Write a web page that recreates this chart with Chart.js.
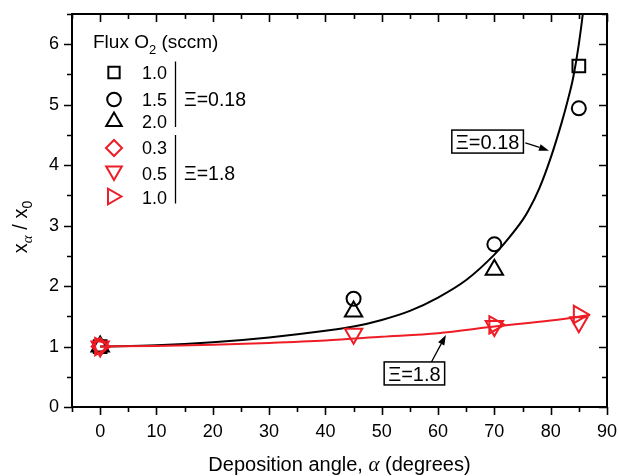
<!DOCTYPE html>
<html><head><meta charset="utf-8">
<script src="https://cdn.jsdelivr.net/npm/chart.js@4/dist/chart.umd.min.js"></script>
<style>html,body{margin:0;padding:0;background:#fff;}canvas{display:block;}</style>
</head><body>
<canvas id="c" width="619" height="476"></canvas>
<script>
// ---- data ----
const xTickValues = [0, 10, 20, 30, 40, 50, 60, 70, 80, 90];
const xMinorTickValues = [-5, 5, 15, 25, 35, 45, 55, 65, 75, 85];
const yTickValues = [0, 1, 2, 3, 4, 5, 6];
const yMinorTickValues = [0.5, 1.5, 2.5, 3.5, 4.5, 5.5, 6.5];

// Xi = 0.18 (black)
const squareAngles = [0, 85];          // 1.0 sccm
const squareValues = [1.0, 5.64];
const circleAngles = [0, 45, 70, 85];  // 1.5 sccm
const circleValues = [1.0, 1.79, 2.69, 4.94];
const triUpAngles = [0, 45, 70];       // 2.0 sccm
const triUpValues = [1.0, 1.58, 2.27];

// Xi = 1.8 (red)
const diamondAngles = [0];             // 0.3 sccm
const diamondValues = [1.0];
const triDownAngles = [0, 45, 70, 85]; // 0.5 sccm
const triDownValues = [1.0, 1.21, 1.34, 1.40];
const triRightAngles = [0, 70, 85];    // 1.0 sccm
const triRightValues = [1.0, 1.36, 1.53];

// fitted curves
const fitBlackAngles = [0, 10, 20, 30, 40, 45, 50, 55, 60, 65, 70, 72, 75, 76, 78, 80, 82, 83, 84, 85, 86, 87];
const fitBlackValues = [1.00, 1.02, 1.07, 1.15, 1.26, 1.33, 1.44, 1.59, 1.81, 2.10, 2.52, 2.73, 3.09, 3.24, 3.62, 4.12, 4.72, 5.06, 5.45, 6.00, 6.75, 7.80];
const fitRedAngles = [0, 10, 20, 30, 40, 50, 60, 70, 80, 87];
const fitRedValues = [1.00, 1.01, 1.03, 1.06, 1.10, 1.16, 1.22, 1.33, 1.43, 1.52];

const legendFluxBlack = ['1.0', '1.5', '2.0'];
const legendFluxRed = ['0.3', '0.5', '1.0'];
const xiBlackLabel = 'Ξ=0.18';
const xiRedLabel = 'Ξ=1.8';

// ---- styling ----
const BLACK = '#000000';
const RED = '#ee1c24';
const SANS = '"Liberation Sans", Arial, Helvetica, sans-serif';
const SERIF = '"Liberation Serif", "DejaVu Serif", serif';

function pts(xs, ys) { return xs.map((x, i) => ({ x: x, y: ys[i] })); }

function markerSet(label, xs, ys, style, rot, r, color, order) {
  return {
    label: label, data: pts(xs, ys), showLine: false,
    pointStyle: style, pointRotation: rot, pointRadius: r, pointHoverRadius: r,
    pointBorderWidth: 2, pointBorderColor: color, borderColor: color,
    pointBackgroundColor: 'rgba(0,0,0,0)', backgroundColor: 'rgba(0,0,0,0)',
    order: order
  };
}
function lineSet(label, xs, ys, color, order) {
  return {
    label: label, data: pts(xs, ys), showLine: true, pointRadius: 0, pointHoverRadius: 0,
    borderColor: color, borderWidth: 2, cubicInterpolationMode: 'monotone',
    fill: false, order: order
  };
}

// own marker drawing for the legend (same geometry as Chart.js point styles)
function drawMarker(ctx, style, x, y, r, rotDeg, color) {
  ctx.save();
  ctx.strokeStyle = color; ctx.lineWidth = 2;
  ctx.beginPath();
  const rad = rotDeg * Math.PI / 180;
  if (style === 'circle') {
    ctx.arc(x, y, r, 0, Math.PI * 2);
  } else if (style === 'rect') {
    const s = Math.SQRT1_2 * r;
    ctx.rect(x - s, y - s, 2 * s, 2 * s);
  } else if (style === 'rectRot') {
    ctx.moveTo(x, y - r); ctx.lineTo(x + r, y); ctx.lineTo(x, y + r); ctx.lineTo(x - r, y);
    ctx.closePath();
  } else if (style === 'triangle') {
    let a = rad;
    ctx.moveTo(x + Math.sin(a) * r, y - Math.cos(a) * r);
    a += 2 * Math.PI / 3;
    ctx.lineTo(x + Math.sin(a) * r, y - Math.cos(a) * r);
    a += 2 * Math.PI / 3;
    ctx.lineTo(x + Math.sin(a) * r, y - Math.cos(a) * r);
    ctx.closePath();
  }
  ctx.stroke();
  ctx.restore();
}

function arrow(ctx, x1, y1, x2, y2) {
  ctx.save();
  ctx.strokeStyle = BLACK; ctx.fillStyle = BLACK; ctx.lineWidth = 1.3;
  const ang = Math.atan2(y2 - y1, x2 - x1);
  const hl = 10, hw = 3.5;
  const bx = x2 - Math.cos(ang) * hl, by = y2 - Math.sin(ang) * hl;
  ctx.beginPath(); ctx.moveTo(x1, y1); ctx.lineTo(bx, by); ctx.stroke();
  ctx.beginPath();
  ctx.moveTo(x2, y2);
  ctx.lineTo(bx + Math.sin(ang) * hw, by - Math.cos(ang) * hw);
  ctx.lineTo(bx - Math.sin(ang) * hw, by + Math.cos(ang) * hw);
  ctx.closePath(); ctx.fill();
  ctx.restore();
}

function boxLabel(ctx, text, cx, cy) {
  ctx.save();
  ctx.font = '20px ' + SANS;
  const w = ctx.measureText(text).width + 8;
  const h = 23;
  ctx.fillStyle = '#fff';
  ctx.fillRect(cx - w / 2, cy - h / 2, w, h);
  ctx.strokeStyle = BLACK; ctx.lineWidth = 1.5;
  ctx.strokeRect(cx - w / 2, cy - h / 2, w, h);
  ctx.fillStyle = BLACK; ctx.textAlign = 'center'; ctx.textBaseline = 'alphabetic';
  ctx.fillText(text, cx, cy + 7.5);
  ctx.restore();
}

const decorPlugin = {
  id: 'decor',
  afterDraw(chart) {
    const ctx = chart.ctx;
    const xs = chart.scales.x, ys = chart.scales.y;
    const a = chart.chartArea;
    ctx.save();
    // frame
    ctx.strokeStyle = BLACK; ctx.lineWidth = 2;
    ctx.strokeRect(a.left, a.top, a.right - a.left, a.bottom - a.top);
    ctx.lineWidth = 1.6;
    ctx.beginPath();
    const xt = xTickValues.map(v => [v, 8]).concat(xMinorTickValues.map(v => [v, 5]));
    xt.forEach(([v, len]) => {
      const p = Math.round(xs.getPixelForValue(v)) + 0.5;
      ctx.moveTo(p, a.bottom); ctx.lineTo(p, a.bottom + len);
      ctx.moveTo(p, a.top); ctx.lineTo(p, a.top + len);
    });
    const yt = yTickValues.map(v => [v, 8]).concat(yMinorTickValues.map(v => [v, 5]));
    yt.forEach(([v, len]) => {
      const p = Math.round(ys.getPixelForValue(v)) + 0.5;
      ctx.moveTo(a.left - len, p); ctx.lineTo(a.left, p);
      ctx.moveTo(a.right - len, p); ctx.lineTo(a.right, p);
    });
    ctx.stroke();

    // x axis title
    ctx.fillStyle = BLACK; ctx.textBaseline = 'alphabetic';
    const t1 = 'Deposition angle, ', t2 = 'α', t3 = ' (degrees)';
    ctx.font = '20px ' + SANS; const w1 = ctx.measureText(t1).width, w3 = ctx.measureText(t3).width;
    ctx.font = 'italic 21px ' + SERIF; const w2 = ctx.measureText(t2).width;
    let xx = (a.left + a.right) / 2 - (w1 + w2 + w3) / 2;
    const by = 471;
    ctx.font = '20px ' + SANS; ctx.textAlign = 'left'; ctx.fillText(t1, xx, by); xx += w1;
    ctx.font = 'italic 21px ' + SERIF; ctx.fillText(t2, xx, by); xx += w2;
    ctx.font = '20px ' + SANS; ctx.fillText(t3, xx, by);

    // y axis title (rotated, with subscripts)
    ctx.save();
    ctx.translate(27, 227);
    ctx.rotate(-Math.PI / 2);
    const parts = [
      { t: 'x', f: '20px ' + SANS, dy: 0 },
      { t: 'α', f: 'italic 15px ' + SERIF, dy: 5 },
      { t: ' / ', f: '20px ' + SANS, dy: 0 },
      { t: 'x', f: '20px ' + SANS, dy: 0 },
      { t: '0', f: '14px ' + SANS, dy: 5 }
    ];
    let tw = 0;
    parts.forEach(p => { ctx.font = p.f; p.w = ctx.measureText(p.t).width; tw += p.w; });
    let px = -tw / 2;
    parts.forEach(p => { ctx.font = p.f; ctx.fillText(p.t, px, p.dy); px += p.w; });
    ctx.restore();

    // legend
    ctx.font = '19px ' + SANS; ctx.textAlign = 'left';
    const fx = 93, fb = 48;
    ctx.fillText('Flux O', fx, fb);
    let fw = ctx.measureText('Flux O').width;
    ctx.font = '13px ' + SANS; ctx.fillText('2', fx + fw, fb + 6);
    fw += ctx.measureText('2').width;
    ctx.font = '19px ' + SANS; ctx.fillText(' (sccm)', fx + fw, fb);

    const mx = 114, tx = 142;
    drawMarker(ctx, 'rect', mx, 72.5, 8, 0, BLACK);
    drawMarker(ctx, 'circle', mx, 99.5, 6.8, 0, BLACK);
    drawMarker(ctx, 'triangle', mx, 121.5, 9, 0, BLACK);
    drawMarker(ctx, 'rectRot', mx, 148, 8, 0, RED);
    drawMarker(ctx, 'triangle', mx, 171, 9, 180, RED);
    drawMarker(ctx, 'triangle', 112.5, 196.5, 9, 90, RED);
    ctx.fillStyle = BLACK; ctx.font = '18px ' + SANS;
    const bl = [79, 105.5, 128];
    legendFluxBlack.forEach((t, i) => ctx.fillText(t, tx, bl[i]));
    const rl = [154, 179.5, 203.5];
    legendFluxRed.forEach((t, i) => ctx.fillText(t, tx, rl[i]));
    ctx.lineWidth = 1.3;
    ctx.beginPath();
    ctx.moveTo(175.5, 61.5); ctx.lineTo(175.5, 127);
    ctx.moveTo(175.5, 135); ctx.lineTo(175.5, 203.5);
    ctx.stroke();
    ctx.font = '19.5px ' + SANS;
    ctx.fillText(xiBlackLabel, 184, 105.5);
    ctx.fillText(xiRedLabel, 184, 179.5);

    // annotations (anchored in data coordinates)
    const P = (x, y) => [xs.getPixelForValue(x), ys.getPixelForValue(y)];
    let s = P(75.5, 4.37), e = P(79.7, 4.24);
    arrow(ctx, s[0], s[1], e[0], e[1]);
    let c = P(68.8, 4.39);
    boxLabel(ctx, xiBlackLabel, c[0], c[1]);
    s = P(58.8, 0.74); e = P(61.4, 1.19);
    arrow(ctx, s[0], s[1], e[0], e[1]);
    c = P(55.8, 0.555);
    boxLabel(ctx, xiRedLabel, c[0], c[1]);
    ctx.restore();
  }
};

const datasets = [
  markerSet('1.0', squareAngles, squareValues, 'rect', 0, 9, BLACK, 2),
  markerSet('1.5', circleAngles, circleValues, 'circle', 0, 7, BLACK, 2),
  markerSet('2.0', triUpAngles, triUpValues, 'triangle', 0, 10, BLACK, 2),
  markerSet('0.3', diamondAngles, diamondValues, 'rectRot', 0, 8.5, RED, 0),
  markerSet('0.5', triDownAngles, triDownValues, 'triangle', 180, 10, RED, 0),
  markerSet('1.0 ', triRightAngles, triRightValues, 'triangle', 90, 10, RED, 0),
  lineSet('fit 0.18', fitBlackAngles, fitBlackValues, BLACK, 3),
  lineSet('fit 1.8', fitRedAngles, fitRedValues, RED, 1)
];

new Chart(document.getElementById('c'), {
  type: 'scatter',
  data: { datasets: datasets },
  options: {
    responsive: false, animation: false, devicePixelRatio: 1,
    layout: { padding: { left: 0, right: 11, top: 14, bottom: 0 } },
    plugins: { legend: { display: false }, tooltip: { enabled: false } },
    scales: {
      x: {
        type: 'linear', min: -5, max: 90,
        grid: { display: false, drawTicks: false }, border: { display: false },
        afterBuildTicks: s => { s.ticks = xTickValues.map(v => ({ value: v })); },
        afterFit: s => { s.height = 69; s.paddingLeft = 0; s.paddingRight = 0; },
        ticks: { color: BLACK, font: { family: SANS, size: 18 }, padding: 14, maxRotation: 0, autoSkip: false }
      },
      y: {
        type: 'linear', min: 0, max: 6.5,
        grid: { display: false, drawTicks: false }, border: { display: false },
        afterBuildTicks: s => { s.ticks = yTickValues.map(v => ({ value: v })); },
        afterFit: s => { s.width = 72; s.paddingTop = 0; s.paddingBottom = 0; },
        ticks: { color: BLACK, font: { family: SANS, size: 18 }, padding: 13, autoSkip: false }
      }
    }
  },
  plugins: [decorPlugin]
});
</script>
</body></html>
